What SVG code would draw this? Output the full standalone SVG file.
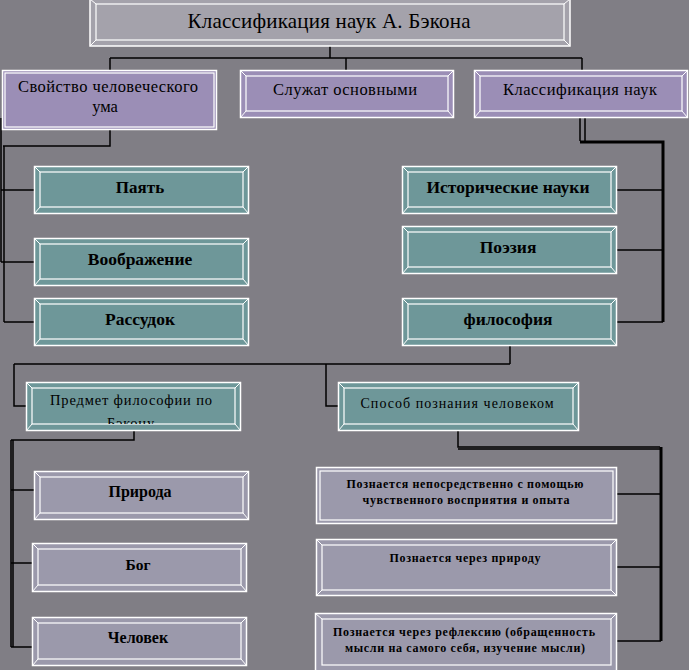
<svg xmlns="http://www.w3.org/2000/svg" width="689" height="670" viewBox="0 0 689 670" font-family="Liberation Serif, Times New Roman, DejaVu Serif, serif">
<defs>
<style>
.o{stroke:#ffffff;stroke-width:1.5}
.i{fill:none;stroke:#ffffff;stroke-width:1.2}
.d{fill:none;stroke:#ffffff;stroke-width:1}
.pur{fill:#9b8eb6}
.tea{fill:#6e9799}
.gb{fill:#9b99ab}
.tg{fill:#a4a2ab}
.t{fill:#000;text-anchor:middle}
.b{font-weight:bold}
.c{fill:none;stroke:#000;stroke-width:1.5}
.ct{fill:none;stroke:#000;stroke-width:3}
.dot{fill:none;stroke:#000;stroke-width:1;stroke-dasharray:1 1}
</style>
<clipPath id="clipP"><rect x="30" y="386" width="206" height="38"/></clipPath>
</defs>
<rect width="689" height="670" fill="#807e85"/>

<g id="connectors">
<path class="c" d="M330 46V58M110 58H582M110 58V70M346 58V70M582 58V70"/>
<path class="dot" d="M3 118H115M110 118V128"/>
<path class="c" d="M110 130V146H3"/>
<path class="c" d="M1 118V262M4 146V322M1 190H34M1 262H34M4 322H34"/>
<path class="c" d="M580 117V141M585 117V141"/>
<path class="ct" d="M580 142H663V322"/>
<path class="c" d="M617 190H663M617 250H663M617 322H663"/>
<path class="c" d="M510 346V364M14 364H510M14 364V406H26M326 364V406H338"/>
<path class="c" d="M134 431V440H11M11 440V647M13 440V647M11 490H34M11 563H32M11 647H32"/>
<path class="c" d="M458 431V447H660M458 449H660"/>
<path class="ct" d="M661 447V641"/>
<path class="c" d="M617 494H661M617 567H661M617 641H661"/>
</g>

<g id="title">
<rect class="o tg" x="90" y="-1" width="480" height="47"/>
<rect class="i" x="96" y="4" width="468" height="36"/>
<path class="d" d="M90 46L96 40M570 46L564 40M564 4L570 -1M96 4L90 -1"/>
<text class="t" x="329" y="28" font-size="21" textLength="283" lengthAdjust="spacing">Классификация наук А. Бэкона</text>
</g>

<g id="n-svoistvo">
<rect class="o pur" x="2.5" y="70.5" width="214" height="59"/>
<rect class="i" x="5" y="73" width="209" height="54"/>
<text class="t" x="108" y="92" font-size="16.5" textLength="180" lengthAdjust="spacing">Свойство человеческого</text>
<text class="t" x="105" y="112" font-size="16.5">ума</text>
</g>

<g id="n-sluzhat">
<rect class="o pur" x="240.5" y="70.5" width="213" height="47"/>
<rect class="i" x="246" y="76" width="202" height="35"/>
<path class="d" d="M240.5 70.5L246 76M453.5 70.5L448 76M453.5 117.5L448 111M240.5 117.5L246 111"/>
<text class="t" x="345" y="95" font-size="16.5" textLength="144" lengthAdjust="spacing">Служат основными</text>
</g>

<g id="n-klass">
<rect class="o pur" x="474.5" y="70.5" width="213" height="47"/>
<rect class="i" x="480" y="76" width="202" height="35"/>
<path class="d" d="M474.5 70.5L480 76M687.5 70.5L682 76M687.5 117.5L682 111M474.5 117.5L480 111"/>
<text class="t" x="580" y="95" font-size="16.5" textLength="154" lengthAdjust="spacing">Классификация наук</text>
</g>

<g id="n-payat">
<rect class="o tea" x="34.5" y="166.5" width="214" height="47"/>
<rect class="i" x="40" y="172" width="203" height="35"/>
<path class="d" d="M34.5 166.5L40 172M248.5 166.5L243 172M248.5 213.5L243 207M34.5 213.5L40 207"/>
<text class="t b" x="140" y="193" font-size="17">Паять</text>
</g>

<g id="n-voobr">
<rect class="o tea" x="34.5" y="238.5" width="214" height="47"/>
<rect class="i" x="40" y="244" width="203" height="35"/>
<path class="d" d="M34.5 238.5L40 244M248.5 238.5L243 244M248.5 285.5L243 279M34.5 285.5L40 279"/>
<text class="t b" x="140" y="265" font-size="17.5">Воображение</text>
</g>

<g id="n-rassudok">
<rect class="o tea" x="34.5" y="298.5" width="214" height="47"/>
<rect class="i" x="40" y="304" width="203" height="35"/>
<path class="d" d="M34.5 298.5L40 304M248.5 298.5L243 304M248.5 345.5L243 339M34.5 345.5L40 339"/>
<text class="t b" x="140" y="325" font-size="17.5">Рассудок</text>
</g>

<g id="n-istor">
<rect class="o tea" x="402.5" y="166.5" width="214" height="47"/>
<rect class="i" x="408" y="172" width="203" height="35"/>
<path class="d" d="M402.5 166.5L408 172M616.5 166.5L611 172M616.5 213.5L611 207M402.5 213.5L408 207"/>
<text class="t b" x="508" y="193" font-size="17.5">Исторические науки</text>
</g>

<g id="n-poeziya">
<rect class="o tea" x="402.5" y="226.5" width="214" height="47"/>
<rect class="i" x="408" y="232" width="203" height="35"/>
<path class="d" d="M402.5 226.5L408 232M616.5 226.5L611 232M616.5 273.5L611 267M402.5 273.5L408 267"/>
<text class="t b" x="508" y="253" font-size="17.5">Поэзия</text>
</g>

<g id="n-filosofiya">
<rect class="o tea" x="402.5" y="298.5" width="214" height="47"/>
<rect class="i" x="408" y="304" width="203" height="35"/>
<path class="d" d="M402.5 298.5L408 304M616.5 298.5L611 304M616.5 345.5L611 339M402.5 345.5L408 339"/>
<text class="t b" x="508" y="325" font-size="17.5">философия</text>
</g>

<g id="n-predmet">
<rect class="o tea" x="26.5" y="382.5" width="214" height="48"/>
<rect class="i" x="32" y="388" width="203" height="36"/>
<path class="d" d="M26.5 382.5L32 388M240.5 382.5L235 388M240.5 430.5L235 424M26.5 430.5L32 424"/>
<g clip-path="url(#clipP)">
<text class="t" x="131" y="405" font-size="14.5" textLength="162" lengthAdjust="spacing">Предмет философии по</text>
<text class="t" x="131" y="428" font-size="14.5" letter-spacing="0.8">Бэкону</text>
</g>
</g>

<g id="n-sposob">
<rect class="o tea" x="338.5" y="382.5" width="240" height="48"/>
<rect class="i" x="344" y="388" width="229" height="36"/>
<path class="d" d="M338.5 382.5L344 388M578.5 382.5L573 388M578.5 430.5L573 424M338.5 430.5L344 424"/>
<text class="t" x="457" y="408" font-size="14" textLength="193" lengthAdjust="spacing">Способ познания человеком</text>
</g>

<g id="n-priroda">
<rect class="o gb" x="34.5" y="471.5" width="214" height="48"/>
<rect class="i" x="40" y="477" width="203" height="36"/>
<path class="d" d="M34.5 471.5L40 477M248.5 471.5L243 477M248.5 519.5L243 513M34.5 519.5L40 513"/>
<text class="t b" x="140" y="497" font-size="16">Природа</text>
</g>

<g id="n-bog">
<rect class="o gb" x="32.5" y="543.5" width="214" height="48"/>
<rect class="i" x="38" y="549" width="203" height="36"/>
<path class="d" d="M32.5 543.5L38 549M246.5 543.5L241 549M246.5 591.5L241 585M32.5 591.5L38 585"/>
<text class="t b" x="138" y="570" font-size="15.5">Бог</text>
</g>

<g id="n-chelovek">
<rect class="o gb" x="32.5" y="617.5" width="214" height="48"/>
<rect class="i" x="38" y="623" width="203" height="36"/>
<path class="d" d="M32.5 617.5L38 623M246.5 617.5L241 623M246.5 665.5L241 659M32.5 665.5L38 659"/>
<text class="t b" x="138" y="643" font-size="16">Человек</text>
</g>

<g id="n-neposr">
<rect class="o gb" x="316.5" y="467.5" width="300" height="56"/>
<rect class="i" x="320" y="471" width="293" height="49"/>
<text class="t b" x="465" y="488" font-size="12" textLength="237" lengthAdjust="spacing">Познается непосредственно с помощью</text>
<text class="t b" x="466" y="504" font-size="12" textLength="207" lengthAdjust="spacing">чувственного восприятия и опыта</text>
</g>

<g id="n-cherez-prirodu">
<rect class="o gb" x="316.5" y="539.5" width="300" height="56"/>
<rect class="i" x="322" y="545" width="289" height="45"/>
<path class="d" d="M316.5 539.5L322 545M616.5 539.5L611 545M616.5 595.5L611 590M316.5 595.5L322 590"/>
<text class="t b" x="465" y="562" font-size="12" textLength="151" lengthAdjust="spacing">Познается через природу</text>
</g>

<g id="n-refleksiya">
<rect class="o gb" x="315.5" y="613.5" width="301" height="58"/>
<rect class="i" x="322" y="619" width="289" height="46"/>
<path class="d" d="M315.5 613.5L322 619M616.5 613.5L611 619"/>
<text class="t b" x="464" y="636" font-size="12" textLength="262" lengthAdjust="spacing">Познается через рефлексию (обращенность</text>
<text class="t b" x="465" y="652" font-size="12" textLength="240" lengthAdjust="spacing">мысли на самого себя, изучение мысли)</text>
</g>
</svg>
